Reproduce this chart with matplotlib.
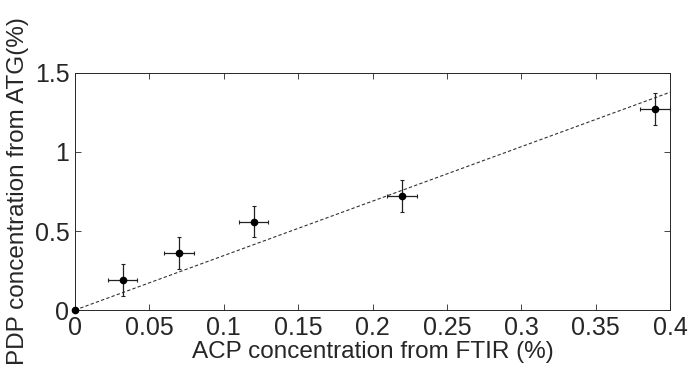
import numpy as np
import matplotlib

matplotlib.use("Agg")
import matplotlib.pyplot as plt

plt.rcParams["font.family"] = ["Liberation Sans", "DejaVu Sans"]

# measured points (ACP from FTIR vs PDP from ATG)
acp = [0.0, 0.032, 0.07, 0.12, 0.22, 0.39]
pdp = [0.0, 0.19, 0.36, 0.56, 0.72, 1.27]
acp_err = [0.0, 0.01, 0.01, 0.01, 0.01, 0.01]
pdp_err = [0.0, 0.1, 0.1, 0.1, 0.1, 0.1]

# dashed reference line
fit_x = [0.0, 0.4]
fit_y = [0.0, 1.378]

text_col = "#262626"

fig = plt.figure(figsize=(6.88, 3.74), dpi=100)
ax = fig.add_axes([0.109, 0.171, 0.865, 0.634])

ax.plot(fit_x, fit_y, linestyle=(0, (3, 2)), color="#333333", linewidth=0.8)
ax.errorbar(acp, pdp, xerr=acp_err, yerr=pdp_err, fmt="o", color="black",
            ecolor="#222222", elinewidth=0.9, capsize=1.5, capthick=0.8,
            markersize=4.5, clip_on=False, zorder=3)

ax.set_xlim(0, 0.4)
ax.set_ylim(0, 1.5)
ax.set_xticks(np.arange(0, 0.401, 0.05))
ax.set_xticklabels(["0", "0.05", "0.1", "0.15", "0.2", "0.25", "0.3", "0.35", "0.4"])
ax.set_yticks([0, 0.5, 1, 1.5])
ax.set_yticklabels(["0", "0.5", "1", "1.5"])

ax.tick_params(direction="in", top=True, right=True, length=4, width=0.6,
               labelsize=18, colors=text_col, pad=4)
for s in ax.spines.values():
    s.set_linewidth(0.7)
    s.set_color(text_col)

ax.set_xlabel("ACP concentration from FTIR (%)", fontsize=17.5, color=text_col, labelpad=1)
ax.set_ylabel("PDP concentration from ATG(%)", fontsize=17.5, color=text_col, labelpad=4)

fig.savefig("out.png", dpi=100)
